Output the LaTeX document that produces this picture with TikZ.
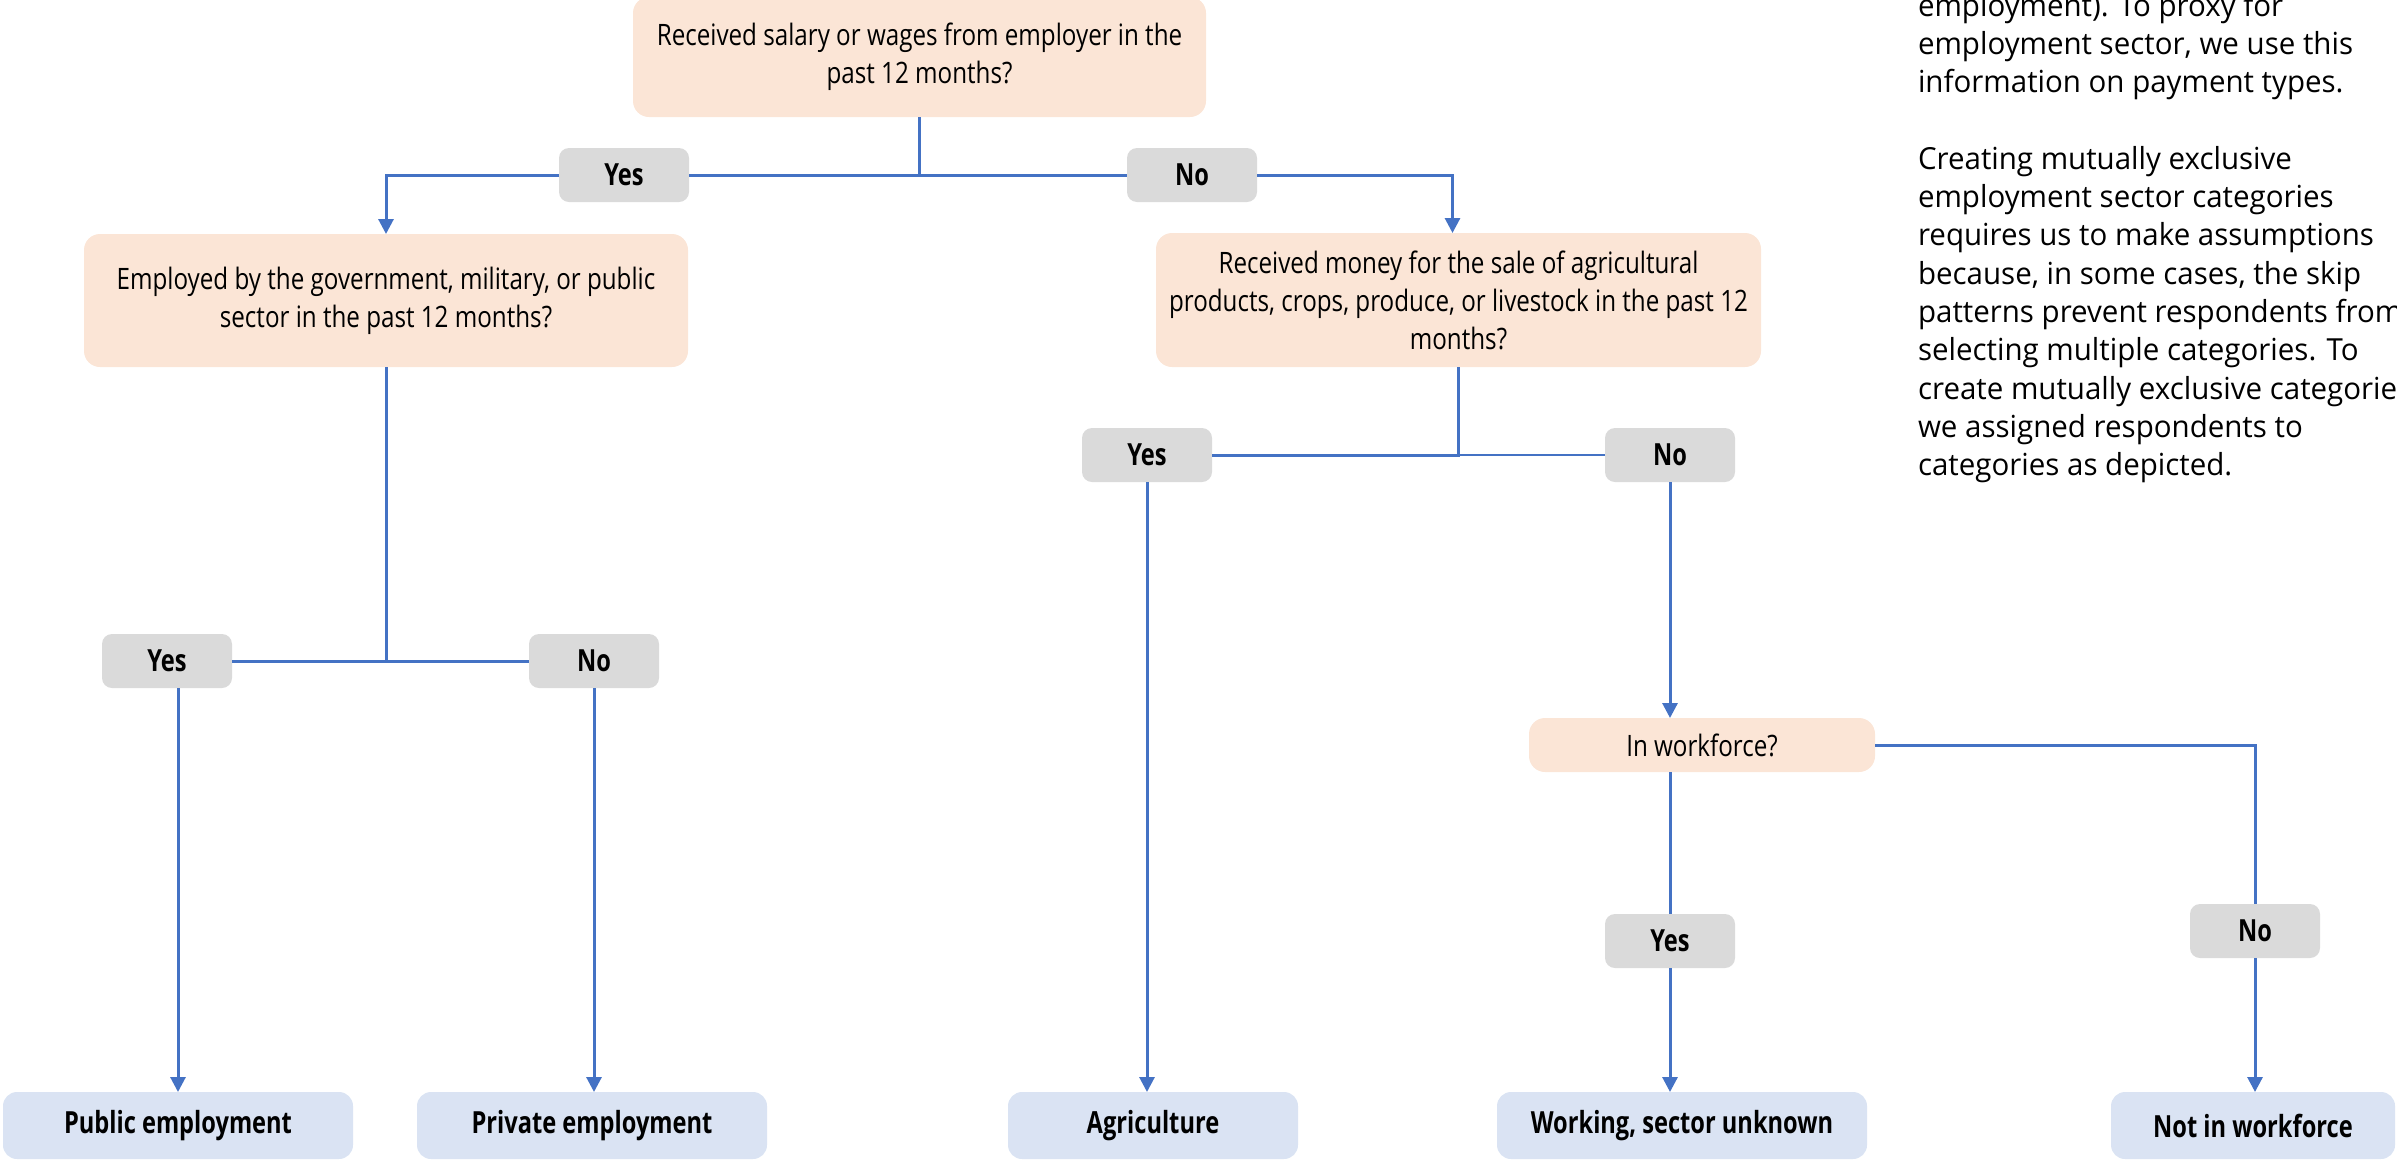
\documentclass[tikz,border=0pt]{standalone}
\usepackage{fontspec}
\setmainfont{Open Sans}
\newfontfamily\boxfont[FakeStretch=0.82]{Open Sans}
\newfontfamily\boldboxfont[FakeStretch=0.775]{Open Sans}
\newfontfamily\notefont[FakeStretch=0.97]{Open Sans}
\usetikzlibrary{arrows.meta}
\definecolor{peach}{HTML}{FBE5D6}
\definecolor{ansgray}{HTML}{DADADA}
\definecolor{resblue}{HTML}{DAE3F3}
\definecolor{linkblue}{HTML}{4472C4}
\begin{document}
\begin{tikzpicture}[x=1pt,y=-1pt,
  every node/.style={inner sep=0pt, outer sep=0pt},
  qbox/.style={fill=peach, rounded corners=16pt, align=center,
    font=\boxfont\fontsize{29.5}{38}\selectfont},
  ans/.style={fill=ansgray, rounded corners=10pt, minimum width=130pt, minimum height=54pt,
    font=\boldboxfont\bfseries\fontsize{30.5}{36}\selectfont},
  result/.style={fill=resblue, rounded corners=14pt, minimum height=67pt,
    font=\boldboxfont\bfseries\fontsize{30.5}{36}\selectfont},
  link/.style={draw=linkblue, line width=3pt},
  thinlink/.style={draw=linkblue, line width=1.8pt},
  arr/.style={link, -{Triangle[width=15pt,length=15pt]}},
  note/.style={anchor=base west, font=\notefont\fontsize{30.4}{38.4}\selectfont}]
\useasboundingbox (0,0) rectangle (2397,1160);
\clip (0,0) rectangle (2397,1160);

% questions
\node[qbox, minimum width=573pt, minimum height=120pt] (q1) at (919.5,57)
  {Received salary or wages from employer in the\\past 12 months?};
\node[qbox, minimum width=604pt, minimum height=133pt] (q2) at (386,300.5)
  {Employed by the government, military, or public\\sector in the past 12 months?};
\node[qbox, minimum width=605pt, minimum height=134pt] (q3) at (1458.5,300)
  {Received money for the sale of agricultural\\products, crops, produce, or livestock in the past 12\\months?};
\node[qbox, minimum width=346pt, minimum height=54pt] (wf) at (1702,745) {In workforce?};

% answers
\node[ans] (y1) at (624,175) {Yes};
\node[ans] (n1) at (1192,175) {No};
\node[ans] (y2) at (1147,455) {Yes};
\node[ans] (n2) at (1670,455) {No};
\node[ans] (y3) at (1670,941) {Yes};
\node[ans] (n3) at (2255,931) {No};
\node[ans] (y4) at (167,661) {Yes};
\node[ans] (n4) at (594,661) {No};

% results
\node[result, minimum width=350pt] (pub) at (178,1125.5) {Public employment};
\node[result, minimum width=350pt] (priv) at (592,1125.5) {Private employment};
\node[result, minimum width=290pt] (agri) at (1153,1125.5) {Agriculture};
\node[result, minimum width=370pt] (work) at (1682,1125.5) {Working, sector unknown};
\node[result, minimum width=284pt] (notwf) at (2253,1125.5) {Not in workforce};

% connectors
\draw[link] (q1.south) -- (q1.south |- y1.east);
\draw[link] (y1.east) -- (n1.west);
\draw[arr] (y1.west) -| (q2.north);
\draw[arr] (n1.east) -| ([xshift=-6pt]q3.north);
\draw[link] (q3.south) |- (y2.east);
\draw[thinlink] (q3.south |- n2.west) -- (n2.west);
\draw[arr] (y2.south) -- (y2.south |- agri.north);
\draw[arr] (n2.south) -- (n2.south |- wf.north);
\draw[link] (y3.north |- wf.south) -- (y3.north);
\draw[arr] (y3.south) -- (y3.south |- work.north);
\draw[link] (wf.east) -| (n3.north);
\draw[arr] (n3.south) -- (n3.south |- notwf.north);
\draw[link] (q2.south) -- (q2.south |- y4.east);
\draw[link] (y4.east) -- (n4.west);
\draw[arr] (pub.north |- y4.south) -- (pub.north);
\draw[arr] (n4.south) -- (n4.south |- priv.north);

% note text
\foreach \i/\t in {0/{employment). To proxy for},
  1/{employment sector, we use this},
  2/{information on payment types.},
  4/{Creating mutually exclusive},
  5/{employment sector categories},
  6/{requires us to make assumptions},
  7/{because, in some cases, the skip},
  8/{patterns prevent respondents from},
  9/{selecting multiple categories. To},
  10/{create mutually exclusive categories,},
  11/{we assigned respondents to},
  12/{categories as depicted.}}
  \node[note] (note\i) at (1918,{16+38.3*\i}) {\t};
\end{tikzpicture}
\end{document}
